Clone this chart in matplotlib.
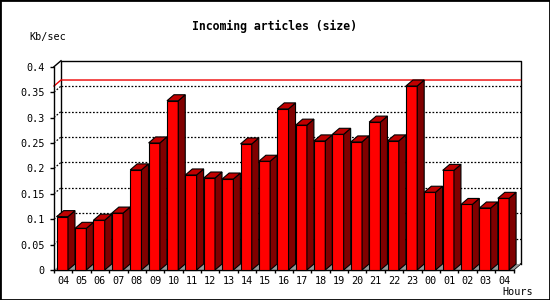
import matplotlib
matplotlib.use("Agg")
import matplotlib.pyplot as plt
from matplotlib.patches import Polygon, Rectangle
import numpy as np

# hourly incoming article volume (Kb/sec)
hours = ["04", "05", "06", "07", "08", "09", "10", "11", "12", "13", "14", "15",
         "16", "17", "18", "19", "20", "21", "22", "23", "00", "01", "02", "03", "04"]
values = [0.105, 0.082, 0.098, 0.112, 0.197, 0.250, 0.333, 0.187, 0.181, 0.179,
          0.248, 0.214, 0.317, 0.285, 0.254, 0.267, 0.252, 0.291, 0.254, 0.362,
          0.153, 0.196, 0.129, 0.122, 0.141]
yticks = [0, 0.05, 0.1, 0.15, 0.2, 0.25, 0.3, 0.35, 0.4]
ytick_labels = ["0", "0.05", "0.1", "0.15", "0.2", "0.25", "0.3", "0.35", "0.4"]

W, H = 550, 300
fig = plt.figure(figsize=(W / 100, H / 100), dpi=100)
left, right, bottom, top = 54, 513.5, 270, 66.7
ax = fig.add_axes([left / W, 1 - bottom / H, (right - left) / W, (bottom - top) / H])

n = len(values)
xmin, xmax = -0.5, n - 0.5
ymax = 0.4
ax.set_xlim(xmin, xmax)
ax.set_ylim(0, ymax)

# depth offset (7 px right, 6 px up) expressed in data units
dx = 7 / ((right - left) / (xmax - xmin))
dy = 6 / ((bottom - top) / ymax)

# back wall
ax.plot([xmin + dx, xmin + dx, xmax + dx, xmax + dx], [dy, ymax + dy, ymax + dy, dy],
        color="black", lw=1, clip_on=False, zorder=1)
ax.plot([xmin, xmin + dx], [ymax, ymax + dy], color="black", lw=1, clip_on=False, zorder=1)
ax.plot([xmax, xmax + dx], [0, dy], color="black", lw=1, clip_on=False, zorder=1)

# grid on back wall + short diagonals on side wall
for t in yticks[1:-1]:
    ax.plot([xmin + dx, xmax + dx], [t + dy, t + dy], color="black", lw=0.9,
            linestyle=(0, (1.4, 1.4)), clip_on=False, zorder=1)
    ax.plot([xmin, xmin + dx], [t, t + dy], color="black", lw=0.9,
            linestyle=(0, (1.4, 1.4)), clip_on=False, zorder=1)

# max line
vmax = max(values)
ax.plot([xmin, xmin + dx, xmax + dx], [vmax, vmax + dy, vmax + dy], color="#ee0000",
        lw=1, clip_on=False, zorder=1.5)

# floor
ax.add_patch(Polygon([(xmin, 0), (xmax, 0), (xmax + dx, dy), (xmin + dx, dy)],
                     closed=True, facecolor="#999999", edgecolor="none",
                     clip_on=False, zorder=2))

# bars
bw = 0.613
for i, v in enumerate(values):
    x0 = i - 0.353
    x1 = x0 + bw
    ax.add_patch(Rectangle((x0, 0), bw, v, facecolor="#ff0000", edgecolor="black",
                           lw=0.8, clip_on=False, zorder=3))
    ax.add_patch(Polygon([(x1, 0), (x1 + dx, dy), (x1 + dx, v + dy), (x1, v)],
                         closed=True, facecolor="#800000", edgecolor="black",
                         lw=0.8, clip_on=False, zorder=3))
    ax.add_patch(Polygon([(x0, v), (x1, v), (x1 + dx, v + dy), (x0 + dx, v + dy)],
                         closed=True, facecolor="#c00000", edgecolor="black",
                         lw=0.8, clip_on=False, zorder=3))

for s in ["top", "right"]:
    ax.spines[s].set_visible(False)
for s in ["left", "bottom"]:
    ax.spines[s].set_linewidth(1)
ax.patch.set_visible(False)

tick_font = dict(family="DejaVu Sans Mono", size=7.3)
ax.set_yticks(yticks)
ax.set_yticklabels(ytick_labels, **tick_font)
ax.tick_params(axis="y", length=3, width=1, pad=3.5)

ax.set_xticks(np.arange(n + 1) - 0.5)
ax.set_xticklabels([])
ax.set_xticks(np.arange(n), minor=True)
ax.set_xticklabels(hours, minor=True, **tick_font)
ax.tick_params(axis="x", which="major", length=2.5, width=1)
ax.tick_params(axis="x", which="minor", length=0, pad=4)

fig.text(274 / W, 1 - 26.7 / H, "Incoming articles (size)", ha="center", va="center",
         family="DejaVu Sans Mono", weight="bold", size=8.3)
fig.text(47.5 / W, 1 - 36.7 / H, "Kb/sec", ha="center", va="center", **tick_font)
fig.text(518 / W, 1 - 291.7 / H, "Hours", ha="center", va="center", **tick_font)

fig.patches.append(Rectangle((0, 0), 1, 1, transform=fig.transFigure, fill=False,
                             edgecolor="black", lw=2, figure=fig))

fig.savefig("out.png", dpi=100)
